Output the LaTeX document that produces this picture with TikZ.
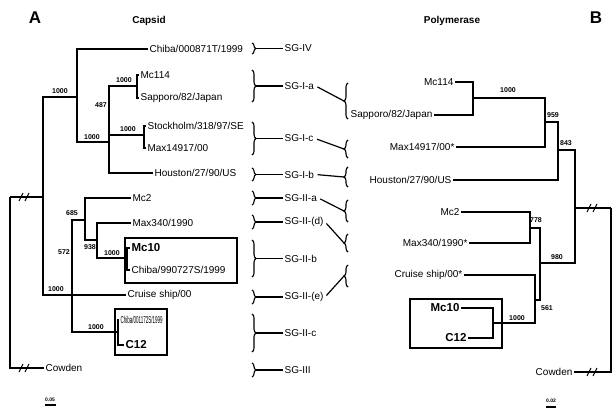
\documentclass[tikz,border=0pt]{standalone}
\usepackage{fontspec}
\setmainfont{Liberation Sans}
\usetikzlibrary{decorations.pathreplacing}

\tikzset{
  taxon/.style={inner sep=1pt, font=\fontsize{10}{10}\selectfont},
  strain/.style={inner sep=1pt, font=\fontsize{11.5}{11.5}\selectfont\bfseries},
  boot/.style={inner sep=0pt, font=\fontsize{7}{7}\selectfont\bfseries},
  sglab/.style={anchor=west, inner sep=1pt, font=\fontsize{10}{10}\selectfont},
  head/.style={font=\fontsize{10}{10}\selectfont\bfseries},
  panel/.style={font=\fontsize{17}{17}\selectfont\bfseries},
  brace/.style={decorate, decoration={brace, amplitude=4pt}, line width=1.1pt},
  hbox/.style={line width=2pt},
}

\begin{document}
\begin{tikzpicture}[x=1pt, y=-1pt, line width=1.2pt]
    \useasboundingbox (0,0) rectangle (612,417);

    % titles
    \node[panel] (labA) at (35,18) {A};
    \node[head] (capsid) at (149,21) {Capsid};
    \node[head] (polym) at (452,21) {Polymerase};
    \node[panel] (labB) at (596,18) {B};

    % capsid tree, leaves
    \node[taxon, anchor=west] (chibaA) at (148,49) {Chiba/000871T/1999};
    \node[taxon, anchor=west] (mc114A) at (139,75) {Mc114};
    \node[taxon, anchor=west] (sappA) at (139,98) {Sapporo/82/Japan};
    \node[taxon, anchor=west] (stockA) at (146,126) {Stockholm/318/97/SE};
    \node[taxon, anchor=west] (maxA) at (146,148) {Max14917/00};
    \node[taxon, anchor=west] (houA) at (153,173) {Houston/27/90/US};
    \node[taxon, anchor=west] (mc2A) at (131,198) {Mc2};
    \node[taxon, anchor=west] (max340A) at (131,223) {Max340/1990};
    \node[strain, anchor=west] (mc10A) at (130,248) {Mc10};
    \node[taxon, anchor=west] (chiba99A) at (130,270) {Chiba/990727S/1999};
    \node[taxon, anchor=west] (cruiseA) at (126,295) {Cruise ship/00};
    \node[taxon, anchor=west] (chiba01A) at (119,320) {\scalebox{0.45}[1]{Chiba/001172S/1999}};
    \node[strain, anchor=west] (c12A) at (124,345) {C12};
    \node[taxon, anchor=west] (cowA) at (44,368) {Cowden};

    % capsid tree, inner nodes
    \coordinate (rootA) at (10,197);
    \coordinate (inA) at (43,197);
    \coordinate (topA) at (77,97);
    \coordinate (sgIA) at (109,142);
    \coordinate (nIaA) at (137,86);
    \coordinate (nIcA) at (144,135);
    \coordinate (botA) at (72,295);
    \coordinate (nIIabA) at (85,220);
    \coordinate (nIIdbA) at (97,240);
    \coordinate (nIIbA) at (127,258);
    \coordinate (nIIcA) at (118,332);

    \draw (rootA) -- (inA);
    \draw (rootA) |- (cowA.west);
    \draw (inA) |- (topA);
    \draw (inA) |- (botA);
    \draw (topA) |- (chibaA.west);
    \draw (topA) |- (sgIA);
    \draw (sgIA) |- (nIaA);
    \draw (sgIA) |- (nIcA);
    \draw (sgIA) |- (houA.west);
    \draw (nIaA) |- (mc114A.west);
    \draw (nIaA) |- (sappA.west);
    \draw (nIcA) |- (stockA.west);
    \draw (nIcA) |- (maxA.west);
    \draw (botA) |- (nIIabA);
    \draw (botA) |- (cruiseA.west);
    \draw (botA) |- (nIIcA);
    \draw (nIIabA) |- (mc2A.west);
    \draw (nIIabA) |- (nIIdbA);
    \draw (nIIdbA) |- (max340A.west);
    \draw (nIIdbA) |- (nIIbA);
    \draw (nIIbA) |- (mc10A.west);
    \draw (nIIbA) |- (chiba99A.west);
    \draw (nIIcA) |- (chiba01A.west);
    \draw (nIIcA) |- (c12A.west);

    \node[boot] (bA1) at (60,91) {1000};
    \node[boot] (bA2) at (124,80) {1000};
    \node[boot] (bA3) at (101,105) {487};
    \node[boot] (bA4) at (128,129) {1000};
    \node[boot] (bA5) at (92,137) {1000};
    \node[boot] (bA6) at (72,213) {685};
    \node[boot] (bA7) at (90,247) {938};
    \node[boot] (bA8) at (64,252) {572};
    \node[boot] (bA9) at (112,253) {1000};
    \node[boot] (bA10) at (56,289) {1000};
    \node[boot] (bA11) at (96,327) {1000};

    \draw[hbox] (125,238) rectangle (237,283);
    \draw[hbox] (115,309) rectangle (167,355);

    % genogroups
    \foreach \t/\b/\s/\lab in {43/54/IV/SG-IV, 70/102/Ia/SG-I-a, 122/155/Ic/SG-I-c,
        168/181/Ib/SG-I-b, 191/205/IIa/SG-II-a, 215/229/IId/SG-II-(d),
        240/277/IIb/SG-II-b, 290/304/IIe/SG-II-(e), 314/352/IIc/SG-II-c,
        363/377/III/SG-III} {
      \draw[brace] (252,\t) -- (252,\b);
      \coordinate (tip\s) at (256,{(\t+\b)/2});
      \node[sglab] (sg\s) at (283,{(\t+\b)/2}) {\lab};
      \draw (tip\s) -- (sg\s.west);
    }

    \foreach \t/\b/\s in {83/119/Ia, 140/158/Ic, 167/187/Ib, 200/222/IIa,
        234/252/IId, 265/287/IIe} {
      \draw[brace] (348,\b) -- (348,\t);
      \coordinate (rb\s) at (344,{(\t+\b)/2});
      \draw[shorten <=2pt] (sg\s.east) -- (rb\s);
    }

    % polymerase tree, leaves
    \node[taxon, anchor=east] (mc114B) at (455,82) {Mc114};
    \node[taxon, anchor=east] (sappB) at (434,115) {Sapporo/82/Japan};
    \node[taxon, anchor=east] (maxB) at (456,147) {Max14917/00*};
    \node[taxon, anchor=east] (houB) at (453,180) {Houston/27/90/US};
    \node[taxon, anchor=east] (mc2B) at (461,212) {Mc2};
    \node[taxon, anchor=east] (max340B) at (469,243) {Max340/1990*};
    \node[taxon, anchor=east] (cruiseB) at (464,275) {Cruise ship/00*};
    \node[strain, anchor=east] (mc10B) at (461,308) {Mc10};
    \node[strain, anchor=east] (c12B) at (468,338) {C12};
    \node[taxon, anchor=east] (cowB) at (574,372) {Cowden};

    % polymerase tree, inner nodes
    \coordinate (nIaB) at (473,98);
    \coordinate (nIacB) at (545,122);
    \coordinate (nIB) at (558,150);
    \coordinate (inB) at (575,208);
    \coordinate (rootB) at (611,208);
    \coordinate (nIIB) at (540,263);
    \coordinate (nIIaB) at (530,228);
    \coordinate (nIIbB) at (535,300);
    \coordinate (nIIcB) at (493,323);

    \draw (nIaB) |- (mc114B.east);
    \draw (nIaB) |- (sappB.east);
    \draw (nIacB) |- (nIaB);
    \draw (nIacB) |- (maxB.east);
    \draw (nIB) |- (nIacB);
    \draw (nIB) |- (houB.east);
    \draw (inB) |- (nIB);
    \draw (inB) |- (nIIB);
    \draw (rootB) -- (inB);
    \draw (rootB) |- (cowB.east);
    \draw (nIIB) |- (nIIaB);
    \draw (nIIB) |- (nIIbB);
    \draw (nIIaB) |- (mc2B.east);
    \draw (nIIaB) |- (max340B.east);
    \draw (nIIbB) |- (cruiseB.east);
    \draw (nIIbB) |- (nIIcB);
    \draw (nIIcB) |- (mc10B.east);
    \draw (nIIcB) |- (c12B.east);

    \node[boot] (bB1) at (508,90) {1000};
    \node[boot] (bB2) at (553,115) {959};
    \node[boot] (bB3) at (566,143) {843};
    \node[boot] (bB4) at (536,220) {778};
    \node[boot] (bB5) at (557,257) {980};
    \node[boot] (bB6) at (547,308) {561};
    \node[boot] (bB7) at (517,318) {1000};

    \draw[hbox] (410,299) rectangle (502,348);

    % long branches cut
    \foreach \p in {(24,197),(24,368),(592,208),(592,372)}
      \draw[line width=1pt, shift={\p}] (-5,4) -- (-1,-4) (1,4) -- (5,-4);

    % scale bars
    \node[boot, font=\fontsize{5}{5}\selectfont\bfseries] (scA) at (50,400) {0.05};
    \draw (45,405) -- (56,405);
    \node[boot, font=\fontsize{5}{5}\selectfont\bfseries] (scB) at (551,401) {0.02};
    \draw (546,407) -- (556,407);

\end{tikzpicture}
\end{document}
